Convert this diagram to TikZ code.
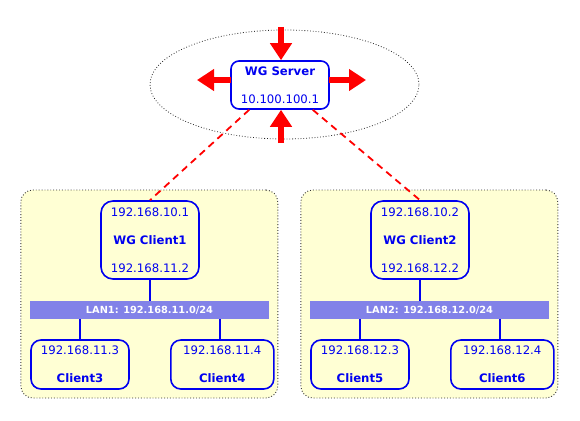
\documentclass[tikz,border=0pt]{standalone}
\usepackage{fontspec}
\setmainfont{DejaVu Sans}
\usetikzlibrary{shapes.geometric,arrows.meta}
\definecolor{grpfill}{HTML}{FFFFD4}
\definecolor{lanfill}{HTML}{8282E8}
\definecolor{nodeblue}{HTML}{0000F0}
\begin{document}
\begin{tikzpicture}[x=1pt,y=-1pt,
  box/.style={draw=nodeblue,line width=1.6pt,text=nodeblue,align=center,
    font=\fontsize{11.7}{28}\selectfont,inner sep=0pt},
  srvbox/.style={box,fill=white,rounded corners=8pt,minimum width=98pt,minimum height=48pt},
  wgbox/.style={box,fill=grpfill,rounded corners=12pt,minimum width=98pt,minimum height=78pt},
  clbox/.style={box,fill=grpfill,rounded corners=10pt,minimum height=49pt},
  grp/.style={draw=black!80,dotted,line width=0.9pt,fill=grpfill,rounded corners=12pt,
    minimum width=257pt,minimum height=208pt,inner sep=0pt},
  lan/.style={fill=lanfill,text=white,font=\fontsize{9.8}{12}\selectfont\bfseries,
    minimum width=239pt,minimum height=18pt,inner sep=0pt},
  link/.style={draw=nodeblue,line width=1.5pt},
  tunnel/.style={draw=red,line width=1.8pt,dash pattern=on 7pt off 5pt},
  flow/.style={draw=red,line width=5.5pt,-{Triangle[width=21pt,length=17pt]}}]
\useasboundingbox (0,0) rectangle (580,420);
% cloud
\node[draw=black!85,dotted,line width=0.8pt,ellipse,minimum width=269pt,minimum height=109pt,inner sep=0pt] (cloud) at (284.5,84.5) {};
% groups
\node[grp] (g1) at (149.3,294) {};
\node[grp] (g2) at (429.3,294) {};
% server
\node[srvbox] (srv) at (280,85) {\textbf{WG Server}\\10.100.100.1};
% arrows
\coordinate (atop) at (281,27);
\coordinate (abot) at (281,143);
\coordinate (lst) at (231,80);
\coordinate (lend) at (197,80);
\coordinate (rst) at (329,80);
\coordinate (rend) at (366,80);
\draw[flow] (atop) -- (atop |- srv.north);
\draw[flow] (abot) -- (abot |- srv.south);
\draw[flow] (lst) -- (lend);
\draw[flow] (rst) -- (rend);
% WG clients
\node[wgbox] (wg1) at (150,240) {192.168.10.1\\\textbf{WG Client1}\\192.168.11.2};
\node[wgbox] (wg2) at (420,240) {192.168.10.2\\\textbf{WG Client2}\\192.168.12.2};
\draw[tunnel] ([xshift=19pt]srv.south west) -- (wg1.north);
\draw[tunnel] ([xshift=-17pt]srv.south east) -- (wg2.north);
% LANs
\node[lan] (lan1) at (149.5,310) {LAN1: 192.168.11.0/24};
\node[lan] (lan2) at (429.5,310) {LAN2: 192.168.12.0/24};
\draw[link] (wg1.south) -- (wg1.south |- lan1.north);
\draw[link] (wg2.south) -- (wg2.south |- lan2.north);
% clients
\node[clbox,minimum width=98pt] (c3) at (80,364.5) {192.168.11.3\\\textbf{Client3}};
\node[clbox,minimum width=103pt] (c4) at (222.3,364.5) {192.168.11.4\\\textbf{Client4}};
\node[clbox,minimum width=98pt] (c5) at (360,364.5) {192.168.12.3\\\textbf{Client5}};
\node[clbox,minimum width=103pt] (c6) at (502.3,364.5) {192.168.12.4\\\textbf{Client6}};
\coordinate (t3) at (80,0);
\coordinate (t4) at (220,0);
\coordinate (t5) at (360,0);
\coordinate (t6) at (500,0);
\draw[link] (t3 |- lan1.south) -- (t3 |- c3.north);
\draw[link] (t4 |- lan1.south) -- (t4 |- c4.north);
\draw[link] (t5 |- lan2.south) -- (t5 |- c5.north);
\draw[link] (t6 |- lan2.south) -- (t6 |- c6.north);
\end{tikzpicture}
\end{document}
